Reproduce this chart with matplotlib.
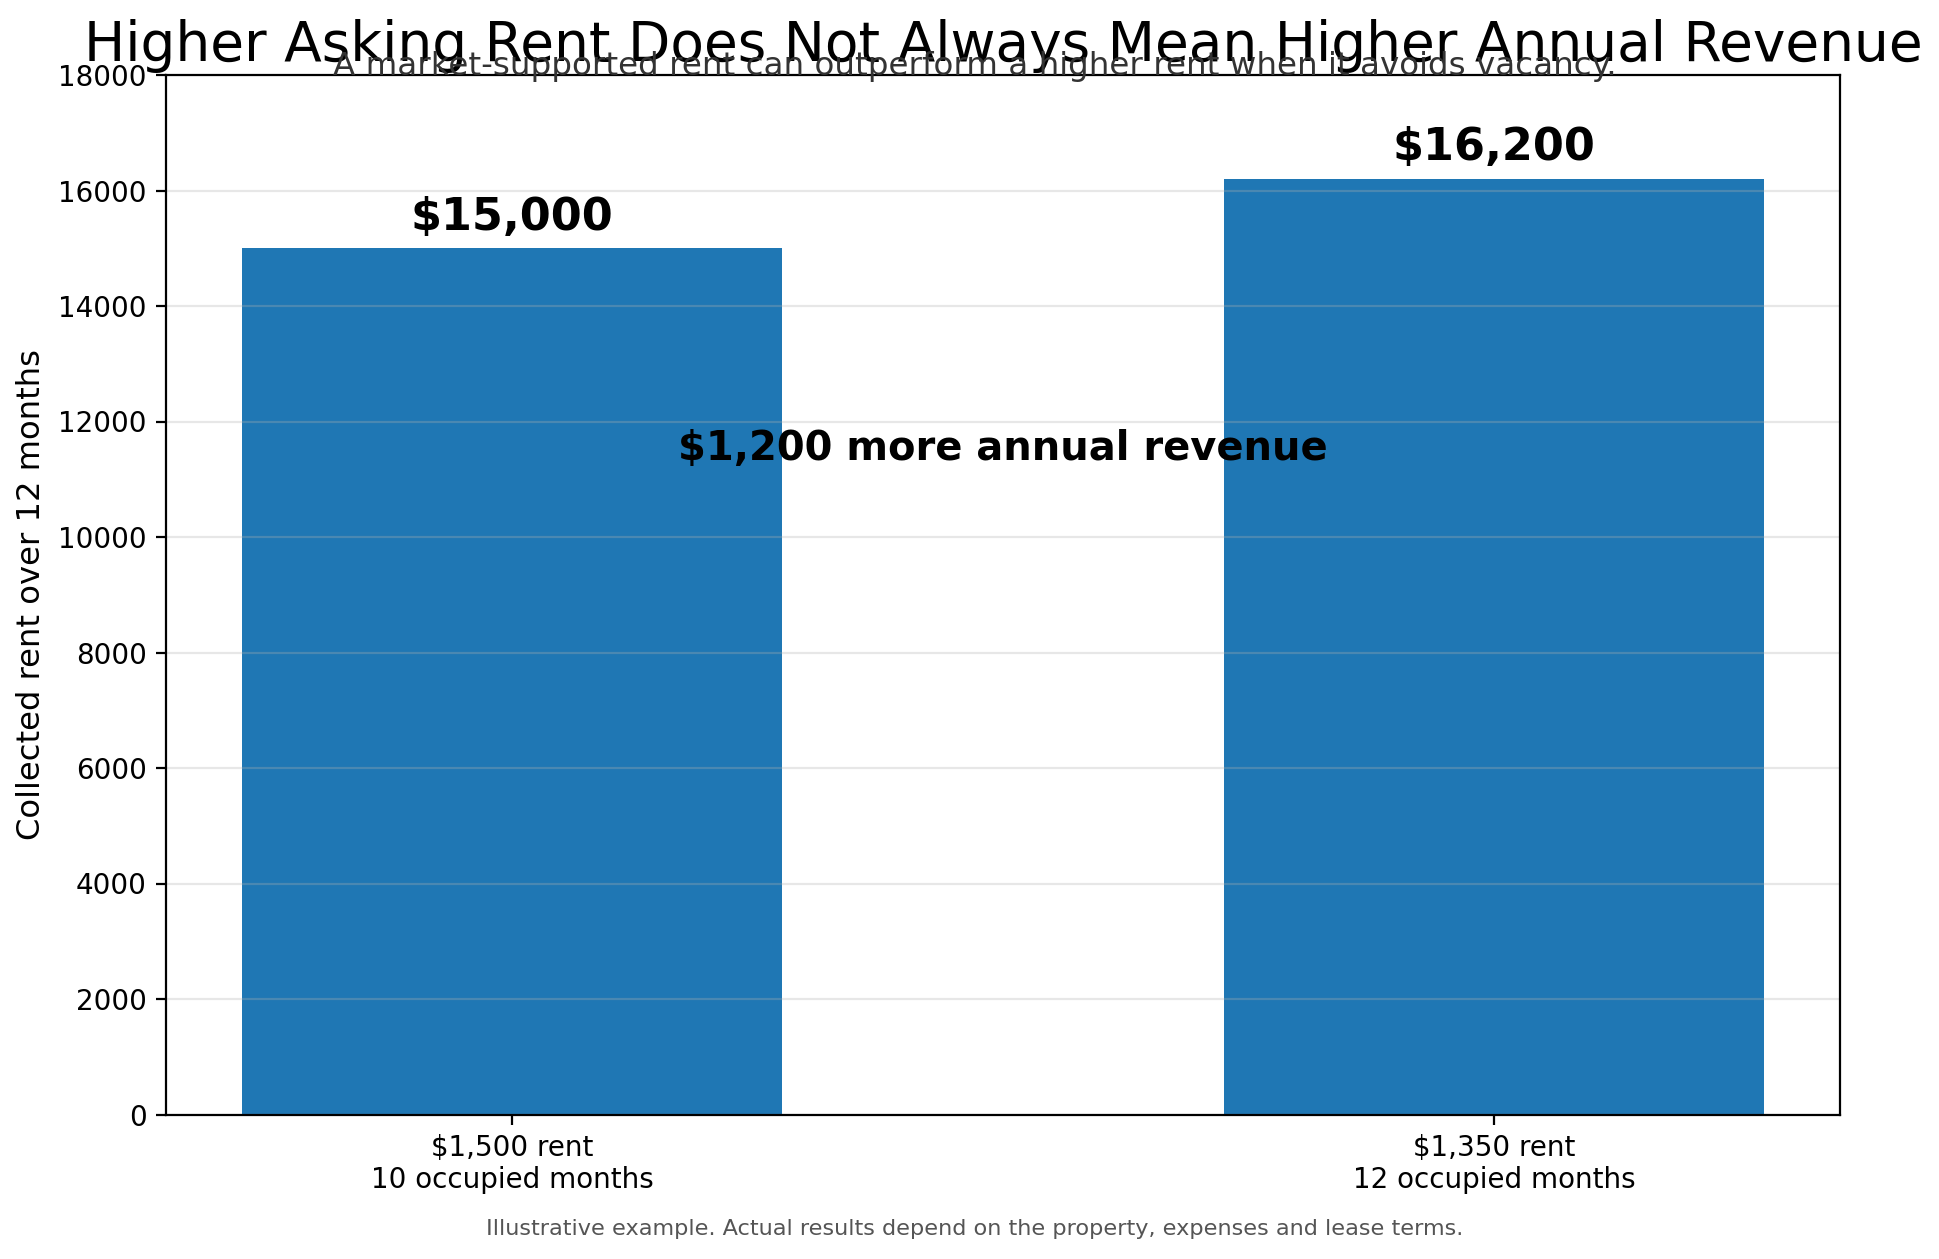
import matplotlib
matplotlib.use("Agg")
import matplotlib.pyplot as plt

# ---- data ----
categories = ["$1,500 rent\n10 occupied months", "$1,350 rent\n12 occupied months"]
revenue = [15000, 16200]
value_labels = ["$15,000", "$16,200"]
yticks = [0, 2000, 4000, 6000, 8000, 10000, 12000, 14000, 16000, 18000]

title = "Higher Asking Rent Does Not Always Mean Higher Annual Revenue"
subtitle = "A market-supported rent can outperform a higher rent when it avoids vacancy."
diff_label = "$1,200 more annual revenue"
footer = "Illustrative example. Actual results depend on the property, expenses and lease terms."
ylabel = "Collected rent over 12 months"

# ---- figure ----
W, H = 1940, 1259
DPI = 200
fig = plt.figure(figsize=(W / DPI, H / DPI), dpi=DPI)
ax = fig.add_axes([166 / W, 1 - 1114.5 / H, (1840 - 166) / W, (1114.5 - 75) / H])

x = list(range(len(categories)))
ax.bar(x, revenue, width=0.55, color="#1f77b4")
ax.set_xticks(x)
ax.set_xticklabels(categories, fontsize=10)
ax.set_ylim(0, 18000)
ax.set_yticks(yticks)
ax.tick_params(axis="y", labelsize=10)
ax.grid(axis="y", alpha=0.3)
ax.set_ylabel(ylabel, fontsize=11.6)

for xi, v, lab in zip(x, revenue, value_labels):
    ax.annotate(lab, (xi, v), xytext=(0, 3.5), textcoords="offset points",
                ha="center", va="bottom", fontsize=16, fontweight="bold")

ax.text(0.5, max(revenue) * 0.7, diff_label, ha="center", va="baseline",
        fontsize=14.4, fontweight="bold")

ax.set_title(title, fontsize=19.8, pad=5)
fig.text(975 / W, 1 - 74.5 / H, subtitle, ha="center", va="baseline",
         fontsize=11.7, color="#333333")
fig.text(975 / W, 1 - 1235 / H, footer, ha="center", va="baseline",
         fontsize=8.05, color="#555555")

fig.savefig("out.png", dpi=DPI)
